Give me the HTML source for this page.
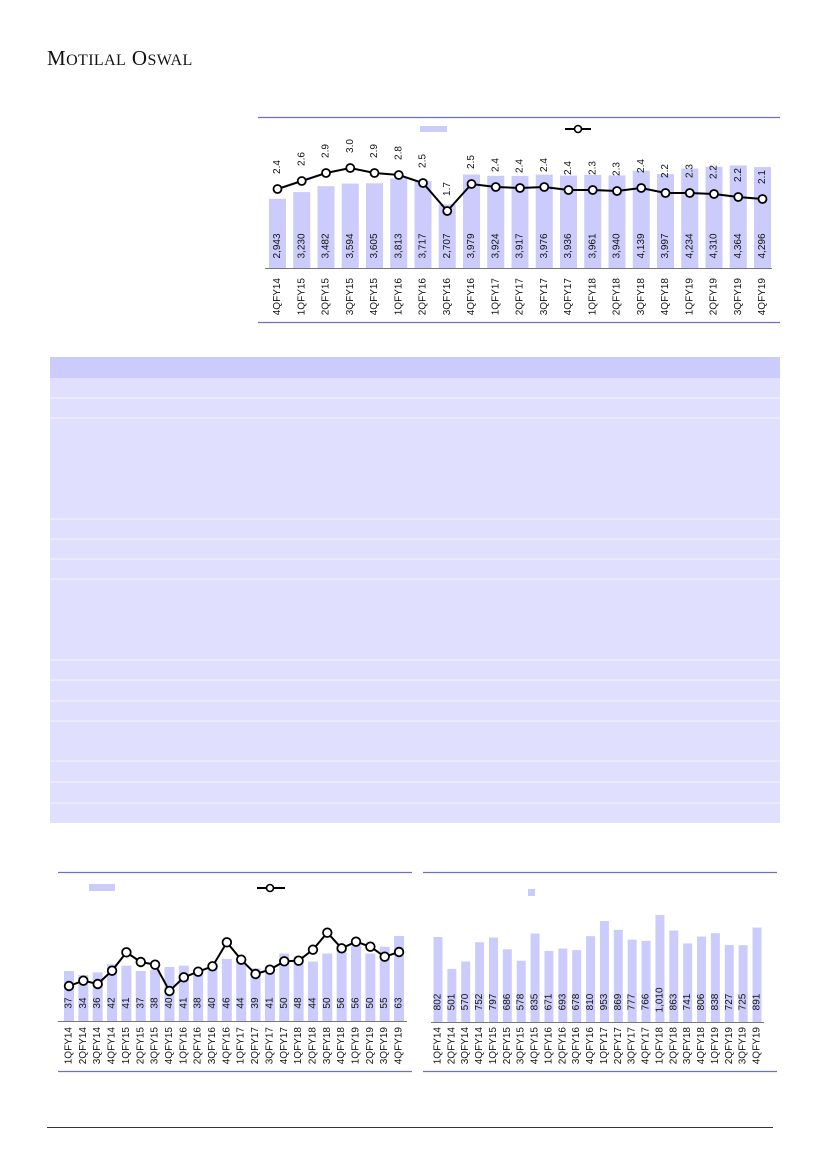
<!DOCTYPE html>
<html><head><meta charset="utf-8"><style>
body{margin:0;background:#fff;width:827px;height:1169px;overflow:hidden;font-family:"Liberation Sans",sans-serif}
svg{position:absolute;left:0;top:0}
</style></head><body>
<svg id="s" width="827" height="1169" xmlns="http://www.w3.org/2000/svg" font-family="Liberation Sans, sans-serif">
<text x="47" y="65" font-family="Liberation Serif, serif" font-size="21" fill="#111" letter-spacing="0.4">M<tspan font-size="16">OTILAL</tspan> O<tspan font-size="16">SWAL</tspan></text>
<line x1="258" y1="117.5" x2="780" y2="117.5" stroke="#7070c0" stroke-width="1.2"/>
<line x1="258" y1="322.5" x2="780" y2="322.5" stroke="#7070c0" stroke-width="1.2"/>
<line x1="58" y1="872.5" x2="412" y2="872.5" stroke="#7070c0" stroke-width="1.2"/>
<line x1="58" y1="1071.5" x2="412" y2="1071.5" stroke="#7070c0" stroke-width="1.2"/>
<line x1="423" y1="872.5" x2="777" y2="872.5" stroke="#7070c0" stroke-width="1.2"/>
<line x1="423" y1="1071.5" x2="777" y2="1071.5" stroke="#7070c0" stroke-width="1.2"/>
<line x1="47" y1="1127.5" x2="773" y2="1127.5" stroke="#333" stroke-width="1"/>
<g id="g"></g>
</svg>
<script>
var g=document.getElementById('g'),h='';
function R(x,y,w,hh,c){h+='<rect x="'+x+'" y="'+y+'" width="'+w+'" height="'+hh+'" fill="'+c+'"/>';}
function T(x,y,t,anchor){h+='<text transform="translate('+x+','+y+') rotate(-90)" font-size="10" fill="#111" text-anchor="'+anchor+'" dominant-baseline="central">'+t+'</text>';}
R(50,357,730,21,'#ccccfc');R(50,378,730,445,'#e0e0fe');
[398,418,519,539,559,579,660,680,701,721,761,782,803].forEach(function(y){R(50,y-0.5,730,1.2,'#f0f0ff');});
var q1=['4QFY14','1QFY15','2QFY15','3QFY15','4QFY15','1QFY16','2QFY16','3QFY16','4QFY16','1QFY17','2QFY17','3QFY17','4QFY17','1QFY18','2QFY18','3QFY18','4QFY18','1QFY19','2QFY19','3QFY19','4QFY19'];
var b1=[2943,3230,3482,3594,3605,3813,3717,2707,3979,3924,3917,3976,3936,3961,3940,4139,3997,4234,4310,4364,4296];
var l1=[2.4,2.6,2.9,3.0,2.9,2.8,2.5,1.7,2.5,2.4,2.4,2.4,2.4,2.3,2.3,2.4,2.2,2.3,2.2,2.2,2.1];
var ly1=[189,181,173,168,173,175,183,211,184,187,188,187,190,190,191,188,193,193,194,197,199];
var pts=[];
for(var i=0;i<21;i++){var cx=277.5+i*24.25,bh=b1[i]*0.0235;R(cx-8.5,268-bh,17,bh,'#ccccfc');
T(cx,246,b1[i].toLocaleString('en-US'),'middle');T(cx,278,q1[i],'end');pts.push(cx+','+ly1[i]);}
h+='<line x1="265" y1="268.5" x2="772" y2="268.5" stroke="#777"/>';
h+='<polyline points="'+pts.join(' ')+'" fill="none" stroke="#000" stroke-width="2"/>';
for(i=0;i<21;i++){var cx=277.5+i*24.25;h+='<circle cx="'+cx+'" cy="'+ly1[i]+'" r="4" fill="#fff" stroke="#000" stroke-width="1.8"/>';T(cx,ly1[i]-22,l1[i].toFixed(1),'middle');}
R(420,126,27,6,'#ccccfc');h+='<line x1="565" y1="129" x2="591" y2="129" stroke="#000" stroke-width="2"/><circle cx="578" cy="129" r="3.5" fill="#fff" stroke="#000" stroke-width="1.6"/>';
var q2=['1QFY14','2QFY14','3QFY14','4QFY14','1QFY15','2QFY15','3QFY15','4QFY15','1QFY16','2QFY16','3QFY16','4QFY16','1QFY17','2QFY17','3QFY17','4QFY17','1QFY18','2QFY18','3QFY18','4QFY18','1QFY19','2QFY19','3QFY19','4QFY19'];
var b2=[37,34,36,42,41,37,38,40,41,38,40,46,44,39,41,50,48,44,50,56,56,50,55,63];
var lp=[378,362,372,332,277,306,314,393,352,335,319,247,299,342,329,304,302,269,218,265,245,260,290,276];
pts=[];
for(i=0;i<24;i++){var cx=69+i*14.35,bh=b2[i]*1.35;R(cx-5,1021-bh,10,bh,'#ccccfc');T(cx,1003,b2[i],'middle');T(cx,1027,q2[i],'end');pts.push(cx+','+(860+lp[i]/3));}
h+='<line x1="58" y1="1021.5" x2="407" y2="1021.5" stroke="#777"/>';
h+='<polyline points="'+pts.join(' ')+'" fill="none" stroke="#000" stroke-width="2"/>';
for(i=0;i<24;i++){h+='<circle cx="'+(69+i*14.35)+'" cy="'+(860+lp[i]/3)+'" r="4.3" fill="#fff" stroke="#000" stroke-width="1.8"/>';}
R(89,884,26,7,'#ccccfc');h+='<line x1="257" y1="888" x2="285" y2="888" stroke="#000" stroke-width="2"/><circle cx="270" cy="888" r="3.5" fill="#fff" stroke="#000" stroke-width="1.6"/>';
var b3=[802,501,570,752,797,686,578,835,671,693,678,810,953,869,777,766,1010,863,741,806,838,727,725,891];
for(i=0;i<24;i++){var cx=438+i*13.87,bh=b3[i]*0.106;R(cx-4.5,1022-bh,9,bh,'#ccccfc');T(cx,1022-(b3[i]>999?22:20),b3[i].toLocaleString('en-US'),'middle');T(cx,1027,q2[i],'end');}
h+='<line x1="431" y1="1022.5" x2="764" y2="1022.5" stroke="#777"/>';
R(528,889,7,7,'#ccccfc');
g.innerHTML=h;
</script>
</body></html>
